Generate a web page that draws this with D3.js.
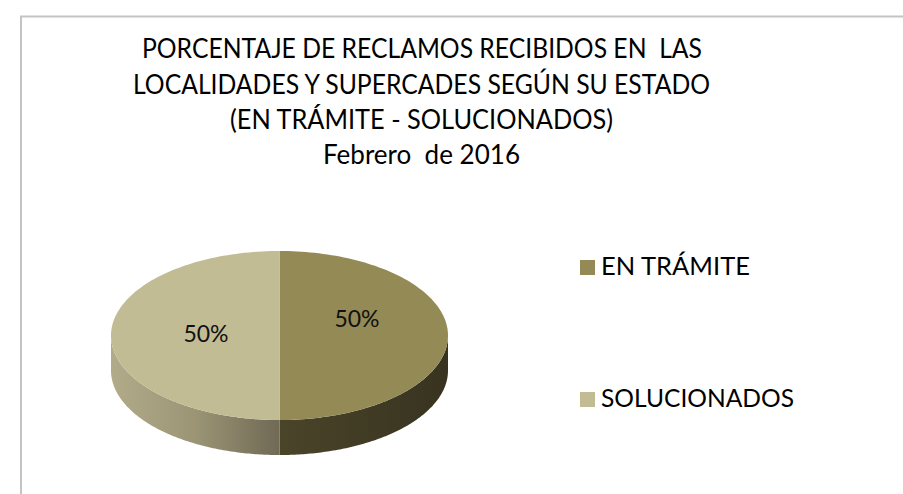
<!DOCTYPE html>
<html><head><meta charset="utf-8">
<script src="https://cdn.jsdelivr.net/npm/d3@7"></script>
<style>html,body{margin:0;padding:0;background:#fff;}svg{display:block;}text{white-space:pre;}</style>
</head><body>
<svg id="c" width="903" height="494"></svg>
<script>
const categories = ["EN TRÁMITE", "SOLUCIONADOS"];
const values = [50, 50];
const labels = ["50%", "50%"];
const titleLines = ["PORCENTAJE DE RECLAMOS RECIBIDOS EN  LAS",
  "LOCALIDADES Y SUPERCADES SEGÚN SU ESTADO",
  "(EN TRÁMITE - SOLUCIONADOS)",
  "Febrero  de 2016"];

const svg = d3.select("#c");
const font = "Lato, 'Open Sans', sans-serif";

// frame
svg.append("rect").attr("x", 21).attr("y", 16.5).attr("width", 900).attr("height", 500)
  .attr("fill", "#fff").attr("stroke", "#c4c4c4").attr("stroke-width", 2);

// title
const titleGeom = [{y:58, x0:142, x1:702},{y:94, x0:133, x1:710},{y:129, x0:230, x1:613},{y:164, x0:323, x1:520}];
svg.append("g").selectAll("text").data(titleLines).join("text")
  .attr("x", (d,i)=>titleGeom[i].x0)
  .attr("y", (d,i)=>titleGeom[i].y)
  .attr("textLength", (d,i)=>titleGeom[i].x1-titleGeom[i].x0)
  .attr("lengthAdjust", "spacingAndGlyphs")
  .attr("font-family", font).attr("font-size", 27).attr("fill", "#000")
  .text(d=>d);

// 3D pie
const cx = 279.5, cy = 335.5, rx = 168.5, ry = 84.5, depth = 35;
const topColors = d3.scaleOrdinal().domain(categories).range(["#938a55", "#c2bc95"]);
const pie = d3.pie().sort(null).startAngle(0).endAngle(2*Math.PI);
const arcs = pie(values).map((a,i)=>Object.assign(a,{cat:categories[i], label:labels[i]}));

const pt = (a, dy=0) => [cx + rx*Math.sin(a), cy - ry*Math.cos(a) + dy];
function sample(a0, a1, n=120){ const r=[]; for(let k=0;k<=n;k++){ r.push(a0+(a1-a0)*k/n);} return r; }

const defs = svg.append("defs");
const gR = defs.append("linearGradient").attr("id","sideR").attr("gradientUnits","userSpaceOnUse")
  .attr("x1", cx).attr("x2", cx+rx).attr("y1",0).attr("y2",0);
gR.append("stop").attr("offset","0").attr("stop-color","#4a4429");
gR.append("stop").attr("offset","1").attr("stop-color","#383320");
const gL = defs.append("linearGradient").attr("id","sideL").attr("gradientUnits","userSpaceOnUse")
  .attr("x1", cx-rx).attr("x2", cx).attr("y1",0).attr("y2",0);
gL.append("stop").attr("offset","0").attr("stop-color","#b1ab8a");
gL.append("stop").attr("offset","0.5").attr("stop-color","#9b9576");
gL.append("stop").attr("offset","1").attr("stop-color","#706954");
const sideFill = {"EN TRÁMITE":"url(#sideR)", "SOLUCIONADOS":"url(#sideL)"};

const line = d3.line();
const pieG = svg.append("g");
// sides (visible front half: angles PI/2 .. 3PI/2)
arcs.forEach(a=>{
  const s = Math.max(a.startAngle, Math.PI/2), e = Math.min(a.endAngle, 3*Math.PI/2);
  if (e <= s) return;
  const angs = sample(s, e);
  const pts = angs.map(t=>pt(t)).concat(angs.slice().reverse().map(t=>pt(t, depth)));
  pieG.append("path").attr("d", line(pts)+"Z").attr("fill", sideFill[a.cat]);
});
// tops
arcs.forEach(a=>{
  const angs = sample(a.startAngle, a.endAngle);
  const pts = [[cx,cy]].concat(angs.map(t=>pt(t)));
  pieG.append("path").attr("d", line(pts)+"Z").attr("fill", topColors(a.cat));
});
// labels
const labelPos = {"EN TRÁMITE":[357, 327], "SOLUCIONADOS":[206, 342]};
pieG.selectAll("text.lbl").data(arcs).join("text").attr("class","lbl")
  .attr("x", d=>labelPos[d.cat][0]).attr("y", d=>labelPos[d.cat][1])
  .attr("text-anchor","middle").attr("font-family", font).attr("font-size", 23)
  .attr("fill", "#111").text(d=>d.label);

// legend
const legY = [275, 407];
const leg = svg.append("g").selectAll("g").data(categories).join("g");
leg.append("rect").attr("x", 580).attr("y", (d,i)=>legY[i]-15).attr("width", 15).attr("height", 15)
  .attr("fill", d=>topColors(d));
leg.append("text").attr("x", 601).attr("y", (d,i)=>legY[i])
  .attr("font-family", font).attr("font-size", 25).attr("fill", "#000")
  .attr("textLength", (d,i)=> i===0 ? 149 : 193).attr("lengthAdjust","spacingAndGlyphs")
  .text(d=>d);
</script>
</body></html>
